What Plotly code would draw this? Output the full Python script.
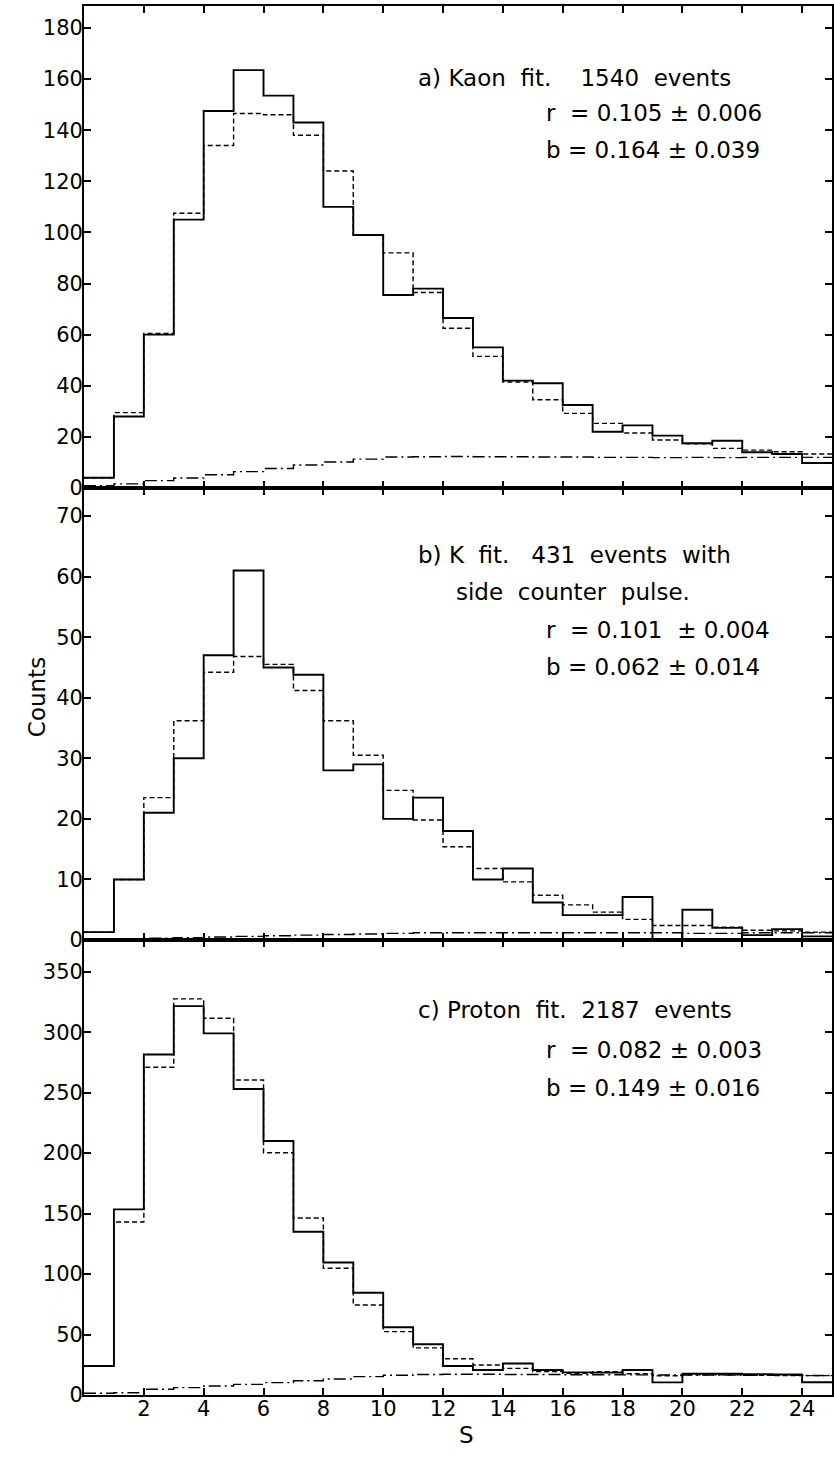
import plotly.graph_objects as go

# ---------------- data (bin edges 0..25, width 1) ----------------
edges = list(range(0, 26))

# a) Kaon fit
kaon_data = [4, 28, 60, 105, 147.5, 163.5, 153.5, 143, 110, 99, 75.5, 78, 66.5, 55, 42,
             41, 32.5, 22, 24.5, 20.5, 17.5, 18.5, 14, 13.3, 9.8]
kaon_fit = [4, 29.5, 60.5, 107.5, 134, 146.5, 146, 138, 124, 99, 92, 76.5, 62.5, 51.5, 41.5,
            34.5, 29.2, 25.3, 21.5, 18.8, 17.3, 15.5, 14.8, 14.2, 13.3]
kaon_bkg = [0.9, 1.6, 2.9, 3.9, 5.2, 6.4, 7.6, 9.0, 10.2, 11.3, 12.1, 12.2, 12.3, 12.2, 12.2,
            12.1, 12.1, 12.0, 12.0, 11.9, 12.0, 11.9, 12.0, 12.0, 12.0]

# b) K fit, side counter pulse
k_data = [1.3, 10, 21, 30, 47, 61, 45, 43.8, 28, 29, 20, 23.5, 18, 10, 11.8,
          6.2, 4.1, 4.1, 7.1, 0, 5, 2, 0.8, 1.8, 0.6]
k_fit = [1.3, 10, 23.5, 36.2, 44.2, 46.8, 45.5, 41.2, 36.2, 30.5, 24.7, 19.8, 15.4, 11.8, 9.6,
         7.4, 5.8, 4.6, 3.4, 2.4, 2.4, 2.1, 1.6, 1.5, 1.3]
k_bkg = [0.2, 0.2, 0.3, 0.4, 0.5, 0.6, 0.7, 0.8, 0.9, 1.0, 1.1, 1.2, 1.2, 1.2, 1.2,
         1.2, 1.2, 1.2, 1.2, 1.2, 1.1, 1.1, 1.2, 1.2, 1.2]

# c) Proton fit
p_data = [24, 153.5, 281.5, 321.5, 299, 253, 210, 135, 109.5, 84.5, 56, 42, 24, 20.7, 26,
          20.7, 18.7, 18.5, 20.7, 10.4, 17.6, 17.6, 17.2, 17, 10.5]
p_fit = [24, 143, 271, 327.5, 311.5, 260.5, 200.3, 146.3, 104.8, 74.4, 52.4, 39, 30, 24.8, 22,
         19.3, 17.9, 19.3, 17.6, 15.9, 16.8, 16.8, 16.3, 16.1, 16]
p_bkg = [1.4, 1.9, 4.7, 6.1, 7.4, 8.8, 10.2, 11.8, 13.2, 15.2, 16.3, 17.0, 17.2, 17.2, 17.0,
         16.9, 16.8, 16.7, 16.6, 16.5, 16.5, 16.4, 16.3, 16.2, 16.1]

panel_texts = [
    ["a)\u00a0Kaon\u00a0\u00a0fit.\u00a0\u00a0\u00a0\u00a01540\u00a0\u00a0events",
     "r\u00a0\u00a0=\u00a00.105\u00a0±\u00a00.006",
     "b\u00a0=\u00a00.164\u00a0±\u00a00.039"],
    ["b)\u00a0K\u00a0\u00a0fit.\u00a0\u00a0\u00a0431\u00a0\u00a0events\u00a0\u00a0with",
     "side\u00a0\u00a0counter\u00a0\u00a0pulse.",
     "r\u00a0\u00a0=\u00a00.101\u00a0\u00a0±\u00a00.004",
     "b\u00a0=\u00a00.062\u00a0±\u00a00.014"],
    ["c)\u00a0Proton\u00a0\u00a0fit.\u00a0\u00a02187\u00a0\u00a0events",
     "r\u00a0\u00a0=\u00a00.082\u00a0±\u00a00.003",
     "b\u00a0=\u00a00.149\u00a0±\u00a00.016"],
]
x_ticks = list(range(2, 25, 2))
y_ticks_a = list(range(0, 181, 20))
y_ticks_b = list(range(0, 71, 10))
y_ticks_c = list(range(0, 351, 50))

# ---------------- layout geometry (pixels) ----------------
W, H = 834, 1464
L, R, T, B = 84, 0, 6, 69
plot_h = H - T - B
y_a0, y_b0, y_c0 = 488, 940, 1395  # pixel y of each panel's zero line


def py(ypx):
    return (H - B - ypx) / plot_h


def px(xpx):
    return (xpx - L) / (W - L - R)


fig = go.Figure()

panels = [
    (kaon_data, kaon_fit, kaon_bkg, "y3", "x3"),
    (k_data, k_fit, k_bkg, "y2", "x2"),
    (p_data, p_fit, p_bkg, "y", "x"),
]

for data, fit, bkg, ya, xa in panels:
    for vals, dash, width in [(bkg, "12px,4px,2px,4px", 1.4), (fit, "5px,3px", 1.4), (data, "solid", 1.9)]:
        fig.add_trace(go.Scatter(
            x=edges, y=list(vals) + [vals[-1]], mode="lines", line_shape="hv",
            line=dict(color="black", width=width, dash=dash),
            xaxis=xa, yaxis=ya, showlegend=False, hoverinfo="skip"))

tickfont = dict(family="DejaVu Sans", size=21, color="black")
common_x = dict(range=[0, 25], tickvals=x_ticks, ticks="inside", ticklen=7, tickwidth=1.5,
                showline=True, linewidth=1.8, linecolor="black", mirror="ticks",
                showgrid=False, zeroline=False, tickcolor="black", tickfont=tickfont,
                ticklabelstandoff=-6)
common_y = dict(ticks="inside", ticklen=7, tickwidth=1.5, showline=True, linewidth=1.8,
                linecolor="black", mirror="ticks", showgrid=False, zeroline=False,
                tickcolor="black", tickfont=tickfont, ticklabelstandoff=-5)

fig.update_layout(
    width=W, height=H, margin=dict(l=L, r=R, t=T, b=B),
    paper_bgcolor="white", plot_bgcolor="white",
    xaxis=dict(**common_x, anchor="y", showticklabels=True),
    xaxis2=dict(**common_x, anchor="y2", matches="x", showticklabels=False),
    xaxis3=dict(**common_x, anchor="y3", matches="x", showticklabels=False),
    yaxis=dict(**common_y, domain=[py(y_c0), py(y_b0)], range=[0, (y_c0 - y_b0) / 1.2095],
               tickvals=y_ticks_c, anchor="x"),
    yaxis2=dict(**common_y, domain=[py(y_b0), py(y_a0)], range=[0, (y_b0 - y_a0) / 6.057],
                tickvals=y_ticks_b, anchor="x2"),
    yaxis3=dict(**common_y, domain=[py(y_a0), 1], range=[0, (y_a0 - T) / 2.556],
                tickvals=y_ticks_a, anchor="x3"),
)

annfont = dict(family="DejaVu Sans", size=23, color="black")
text_rows = [
    [(417, 78), (545, 113), (545, 150)],
    [(417, 555), (455, 592), (545, 630), (545, 667)],
    [(417, 1010), (545, 1050), (545, 1088)],
]
for texts, rows in zip(panel_texts, text_rows):
    for t, (x0, y0) in zip(texts, rows):
        fig.add_annotation(text=t, x=px(x0), y=py(y0), xref="paper", yref="paper",
                           xanchor="left", yanchor="middle", showarrow=False, font=annfont)

fig.add_annotation(text="Counts", x=px(22), y=py(697), xref="paper", yref="paper",
                   textangle=-90, showarrow=False, font=dict(family="DejaVu Sans", size=23, color="black"))
fig.add_annotation(text="S", x=px(468), y=py(1450), xref="paper", yref="paper",
                   showarrow=False, font=dict(family="DejaVu Sans", size=23, color="black"))

fig.write_html("out.html")
